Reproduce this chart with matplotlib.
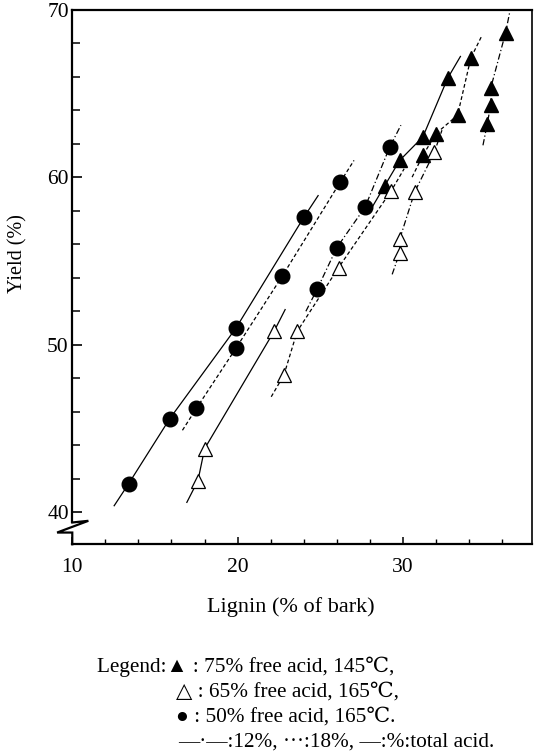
import matplotlib
matplotlib.use("Agg")
import matplotlib.pyplot as plt
from matplotlib.transforms import blended_transform_factory

# filled circles: 50% free acid, 165 C
circ_solid_x = [13.4, 15.9, 19.9, 24.0]
circ_solid_y = [41.7, 45.6, 51.0, 57.6]
circ_dash_x = [17.5, 19.9, 22.7, 26.2]
circ_dash_y = [46.2, 49.8, 54.1, 59.7]
circ_dd_x = [24.8, 26.0, 27.7, 29.2]
circ_dd_y = [53.3, 55.8, 58.2, 61.8]

# filled triangles: 75% free acid, 145 C
ftri_solid_x = [28.9, 29.8, 31.2, 32.7]
ftri_solid_y = [59.5, 61.0, 62.4, 65.9]
ftri_dash_x = [31.2, 32.0, 33.3, 34.1]
ftri_dash_y = [61.3, 62.6, 63.7, 67.1]
ftri_dd_x = [35.1, 35.3, 35.3, 36.2]
ftri_dd_y = [63.2, 64.3, 65.3, 68.6]

# open triangles: 65% free acid, 165 C
otri_solid_x = [17.6, 18.0, 22.2]
otri_solid_y = [41.9, 43.8, 50.8]
otri_dash_x = [22.8, 23.6, 26.1, 29.3]
otri_dash_y = [48.2, 50.8, 54.6, 59.2]
otri_dd_x = [29.8, 29.8, 30.7, 31.9]
otri_dd_y = [55.5, 56.3, 59.1, 61.5]

x_ticks = [10, 20, 30]
y_ticks = [40, 50, 60, 70]

legend_lines = [
    "Legend:\u25b2 : 75% free acid, 145\u2103,",
    "\u25b3 : 65% free acid, 165\u2103,",
    "\u25cf : 50% free acid, 165\u2103.",
    "\u2014\u00b7\u2014:12%, \u00b7\u00b7\u00b7:18%, \u2014:%:total acid.",
]

SERIF = ["Liberation Serif", "DejaVu Serif", "DejaVu Sans", "Noto Sans CJK JP"]
LS = {
    "solid": "-",
    "dash": (0, (3.0, 2.0)),
    "dd": (0, (5.0, 2.0, 1.0, 2.0)),
}
EXT = 1.3


def extended(xs, ys):
    # hand-drawn lines run a little past the first and last points
    dx = xs[-1] - xs[0]
    dy = ys[-1] - ys[0]
    ex = EXT * dx / dy
    return [xs[0] - ex] + list(xs) + [xs[-1] + ex], [ys[0] - EXT] + list(ys) + [ys[-1] + EXT]


def draw_group(ax, xs, ys, style, marker):
    lx, ly = extended(xs, ys)
    ax.plot(lx, ly, color="black", linewidth=0.9, linestyle=LS[style], zorder=2)
    if marker == "circle":
        ax.plot(xs, ys, "o", color="black", markersize=10.5, zorder=3, linestyle="none")
    elif marker == "ftri":
        ax.plot(xs, ys, "^", color="black", markersize=10, zorder=3, linestyle="none")
    else:
        ax.plot(xs, ys, "^", markerfacecolor="white", markeredgecolor="black",
                markeredgewidth=0.9, markersize=10.5, zorder=3, linestyle="none")


def main():
    plt.rcParams["font.family"] = SERIF
    fig = plt.figure(figsize=(5.39, 7.55), dpi=100)
    ax = fig.add_axes([0.1341, 0.2791, 0.8529, 0.7083])

    draw_group(ax, circ_solid_x, circ_solid_y, "solid", "circle")
    draw_group(ax, circ_dash_x, circ_dash_y, "dash", "circle")
    draw_group(ax, circ_dd_x, circ_dd_y, "dd", "circle")
    draw_group(ax, ftri_solid_x, ftri_solid_y, "solid", "ftri")
    draw_group(ax, ftri_dash_x, ftri_dash_y, "dash", "ftri")
    draw_group(ax, ftri_dd_x, ftri_dd_y, "dd", "ftri")
    draw_group(ax, otri_solid_x, otri_solid_y, "solid", "otri")
    draw_group(ax, otri_dash_x, otri_dash_y, "dash", "otri")
    draw_group(ax, otri_dd_x, otri_dd_y, "dd", "otri")

    ax.set_xlim(10, 37.8)
    ax.set_ylim(38.1, 70)
    ax.set_xticks(x_ticks)
    ax.set_xticks(range(12, 37, 2), minor=True)
    ax.set_yticks(y_ticks)
    ax.set_yticks(range(42, 70, 2), minor=True)
    ax.tick_params(axis="x", which="major", direction="in", length=5, width=1.1, pad=10, labelsize=15.5)
    ax.tick_params(axis="x", which="minor", direction="in", length=3.8, width=1.0)
    ax.tick_params(axis="y", which="major", direction="in", length=7, width=1.2, pad=2.5, labelsize=15.5)
    ax.tick_params(axis="y", which="minor", direction="in", length=5.5, width=1.1)

    for side in ("top", "bottom", "left"):
        ax.spines[side].set_linewidth(1.6)
    ax.spines["right"].set_linewidth(1.2)

    # axis break on the left spine below 40
    ax.spines["left"].set_bounds(39.4, 70)
    trans = blended_transform_factory(ax.transAxes, ax.transData)
    ax.plot([0.0, 0.035, -0.033, 0.0, 0.0], [39.4, 39.5, 38.8, 38.8, 38.1],
            color="black", linewidth=1.6, transform=trans, clip_on=False,
            solid_joinstyle="miter")

    ax.set_ylabel("Yield (%)", fontsize=14.5)
    ax.yaxis.set_label_coords(-0.098, 0.543)
    fig.text(0.54, 1 - 607 / 755, "Lignin (% of bark)", fontsize=16, ha="center", va="center")

    starts = [97, 176, 176, 178]
    rows = [667, 692, 717, 742]
    for text, x0, y0 in zip(legend_lines, starts, rows):
        fig.text(x0 / 539, 1 - y0 / 755, text, fontsize=15.3, ha="left", va="center")

    fig.savefig("out.png", dpi=100)
    plt.close(fig)


if __name__ == "__main__":
    main()
